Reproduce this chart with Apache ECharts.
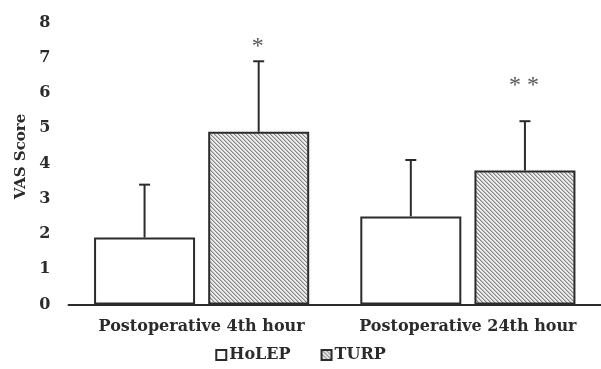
<!DOCTYPE html>
<html>
<head>
<meta charset="utf-8">
<script src="https://cdn.jsdelivr.net/npm/echarts@6/dist/echarts.min.js"></script>
<style>html,body{margin:0;padding:0;background:#fff}#c{width:601px;height:369px}</style>
</head>
<body>
<div id="c"></div>
<script>
var categories = ['Postoperative 4th hour', 'Postoperative 24th hour'];
var holepMean = [1.9, 2.5];
var holepSD = [1.5, 1.6];
var turpMean = [4.9, 3.8];
var turpSD = [2.0, 1.4];
var sigLabels = ['*', '* *'];
var sigY = [7.3, 6.2];
var yTicks = [0, 1, 2, 3, 4, 5, 6, 7, 8];

var FONT = '"DejaVu Serif", "Liberation Serif", serif';
var INK = '#2b2b2b';

function hatch() {
  var n = 4, cv = document.createElement('canvas');
  cv.width = n; cv.height = n;
  var ctx = cv.getContext('2d');
  var img = ctx.createImageData(n, n);
  for (var y = 0; y < n; y++) for (var x = 0; x < n; x++) {
    var d = ((x - y) % n + n) % n;
    var v = d === 0 ? 135 : (d === 1 ? 190 : 236);
    var i = (y * n + x) * 4;
    img.data[i] = v; img.data[i+1] = v; img.data[i+2] = v; img.data[i+3] = 255;
  }
  ctx.putImageData(img, 0, 0);
  return cv;
}
var pattern = { image: hatch(), repeat: 'repeat' };

var BAR_W = 101, GAP = 0.13;
function errSeries(name, mean, sd, side) {
  return {
    type: 'custom', name: name + ' err', silent: true, z: 5,
    data: mean.map(function (m, i) { return [i, m, m + sd[i]]; }),
    renderItem: function (params, api) {
      var off = side * (BAR_W + BAR_W * GAP) / 2;
      var p0 = api.coord([api.value(0), api.value(1)]);
      var p1 = api.coord([api.value(0), api.value(2)]);
      var x = p0[0] + off;
      var st = { stroke: INK, lineWidth: 2 };
      return { type: 'group', children: [
        { type: 'line', shape: { x1: x, y1: p0[1], x2: x, y2: p1[1] }, style: st },
        { type: 'line', shape: { x1: x - 5.5, y1: p1[1], x2: x + 5.5, y2: p1[1] }, style: st }
      ]};
    }
  };
}

var chart = echarts.init(document.getElementById('c'), null, { renderer: 'canvas' });
chart.setOption({
  animation: false,
  backgroundColor: '#fff',
  grid: { left: 68.5, width: 535, top: 22.5, bottom: 64.5, containLabel: false },
  legend: {
    bottom: 1, left: 'center', itemWidth: 10, itemHeight: 10, itemGap: 30,
    icon: 'rect',
    textStyle: { fontFamily: FONT, fontWeight: 'bold', fontSize: 16, color: INK, padding: [0, 0, 0, -2] },
    data: ['HoLEP', 'TURP']
  },
  xAxis: {
    type: 'category', data: categories,
    axisLine: { lineStyle: { color: INK, width: 2 } },
    axisTick: { show: false },
    axisLabel: { interval: 0, hideOverlap: false, fontFamily: FONT, fontWeight: 'bold', fontSize: 16, color: INK, margin: 14 }
  },
  yAxis: {
    type: 'value', min: 0, max: 8, interval: 1,
    name: 'VAS Score', nameLocation: 'middle', nameGap: 39, nameRotate: 90,
    nameTextStyle: { fontFamily: FONT, fontWeight: 'bold', fontSize: 15, color: INK, padding: [0, 0, 0, 14] },
    axisLine: { show: false }, axisTick: { show: false }, splitLine: { show: false },
    axisLabel: { fontFamily: FONT, fontWeight: 'bold', fontSize: 16, color: INK, margin: 18,
      formatter: function (v) { return yTicks.indexOf(v) >= 0 ? String(v) : ''; } }
  },
  series: [
    { name: 'HoLEP', type: 'bar', data: holepMean, barWidth: BAR_W, barGap: (GAP * 100) + '%',
      itemStyle: { color: '#ffffff', borderColor: INK, borderWidth: 2 } },
    { name: 'TURP', type: 'bar', data: turpMean, barWidth: BAR_W,
      itemStyle: { color: pattern, borderColor: INK, borderWidth: 2 } },
    errSeries('HoLEP', holepMean, holepSD, -1),
    errSeries('TURP', turpMean, turpSD, 1),
    {
      type: 'custom', name: 'sig', silent: true, z: 6,
      data: sigY.map(function (y, i) { return [i, y]; }),
      renderItem: function (params, api) {
        var off = (BAR_W + BAR_W * GAP) / 2;
        var p = api.coord([api.value(0), api.value(1)]);
        return { type: 'text', x: p[0] + off - 1, y: p[1], style: {
          text: sigLabels[params.dataIndex], fontFamily: '"Liberation Serif", serif', fontSize: 24,
          fill: '#555', align: 'center', verticalAlign: 'middle' } };
      }
    }
  ]
});
</script>
</body>
</html>
